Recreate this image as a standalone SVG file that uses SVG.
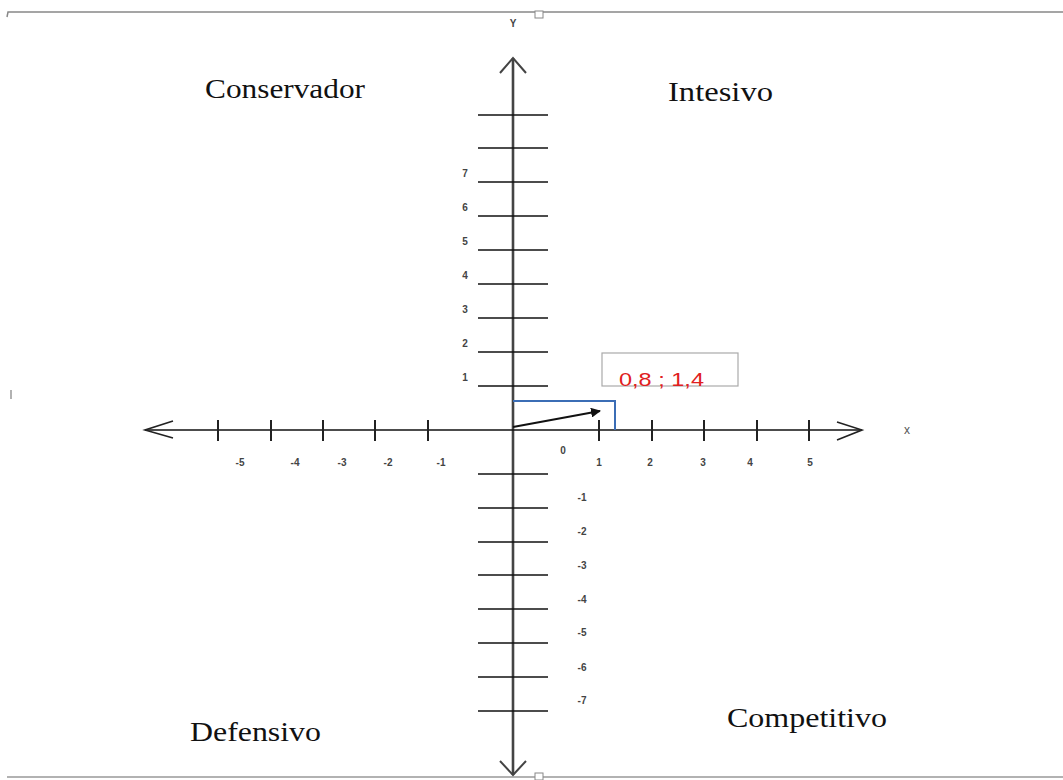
<svg xmlns="http://www.w3.org/2000/svg" width="1063" height="780" viewBox="0 0 1063 780">
<style>
.quad{font-family:"Liberation Serif","Times New Roman",serif;font-size:27px;fill:#111}
.tk{font-family:"Liberation Sans",Arial,sans-serif;font-size:10px;font-weight:bold;fill:#444;text-anchor:middle}
.ytick{stroke:#111;stroke-width:1.4}
.xtick{stroke:#222;stroke-width:2}
.frame{stroke:#888;stroke-width:1.5;fill:none}
</style>
<defs>
<marker id="ah" markerWidth="10" markerHeight="10" refX="9" refY="5" orient="auto" markerUnits="userSpaceOnUse">
<path d="M0,0 L10,5 L0,10 Z" fill="#111"/>
</marker>
</defs>
<rect width="1063" height="780" fill="#fff"/>
<g id="frame">
<path class="frame" d="M7,17 L8,12 L1063,12"/>
<rect x="535" y="11" width="8" height="7" fill="#fff" stroke="#888" stroke-width="1"/>
<line x1="7" y1="777" x2="1063" y2="777" stroke="#999" stroke-width="1.5"/>
<rect x="535" y="773" width="8" height="7" fill="#fff" stroke="#888" stroke-width="1"/>
<line x1="11" y1="390" x2="11" y2="399" stroke="#999" stroke-width="1.5"/>
</g>
<g id="axes">
<line x1="513" y1="58" x2="513" y2="775" stroke="#444" stroke-width="2.6"/>
<path d="M500,73 L513,58 L526,73" fill="none" stroke="#444" stroke-width="2"/>
<path d="M500,761 L513,775 L526,761" fill="none" stroke="#444" stroke-width="2"/>
<line x1="145" y1="430" x2="862" y2="430" stroke="#111" stroke-width="1.5"/>
<path d="M173,421 L145,430 L173,438" fill="none" stroke="#222" stroke-width="1.6"/>
<path d="M837,422 L862,430 L837,440" fill="none" stroke="#222" stroke-width="1.6"/>
<text x="513" y="27" class="tk" fill="#666">Y</text>
<text x="907" y="434" class="tk" style="font-size:12px;font-weight:normal;fill:#555">x</text>
</g>
<g id="yticks">
<line class="ytick" x1="478" y1="115" x2="548" y2="115"/>
<line class="ytick" x1="478" y1="148" x2="548" y2="148"/>
<line class="ytick" x1="478" y1="182" x2="548" y2="182"/>
<line class="ytick" x1="478" y1="216" x2="548" y2="216"/>
<line class="ytick" x1="478" y1="250" x2="548" y2="250"/>
<line class="ytick" x1="478" y1="284" x2="548" y2="284"/>
<line class="ytick" x1="478" y1="318" x2="548" y2="318"/>
<line class="ytick" x1="478" y1="352" x2="548" y2="352"/>
<line class="ytick" x1="478" y1="386" x2="548" y2="386"/>
<line class="ytick" x1="478" y1="474" x2="548" y2="474"/>
<line class="ytick" x1="478" y1="508" x2="548" y2="508"/>
<line class="ytick" x1="478" y1="542" x2="548" y2="542"/>
<line class="ytick" x1="478" y1="575" x2="548" y2="575"/>
<line class="ytick" x1="478" y1="609" x2="548" y2="609"/>
<line class="ytick" x1="478" y1="643" x2="548" y2="643"/>
<line class="ytick" x1="478" y1="677" x2="548" y2="677"/>
<line class="ytick" x1="478" y1="711" x2="548" y2="711"/>
<text class="tk" x="465" y="177">7</text>
<text class="tk" x="465" y="211">6</text>
<text class="tk" x="465" y="245">5</text>
<text class="tk" x="465" y="279">4</text>
<text class="tk" x="465" y="313">3</text>
<text class="tk" x="465" y="347">2</text>
<text class="tk" x="465" y="381">1</text>
<text class="tk" x="582" y="501">-1</text>
<text class="tk" x="582" y="535">-2</text>
<text class="tk" x="582" y="569">-3</text>
<text class="tk" x="582" y="603">-4</text>
<text class="tk" x="582" y="636">-5</text>
<text class="tk" x="582" y="671">-6</text>
<text class="tk" x="582" y="704">-7</text>
</g>
<g id="xticks">
<line class="xtick" x1="218" y1="420" x2="218" y2="441"/>
<line class="xtick" x1="271" y1="420" x2="271" y2="441"/>
<line class="xtick" x1="323" y1="420" x2="323" y2="441"/>
<line class="xtick" x1="375" y1="420" x2="375" y2="441"/>
<line class="xtick" x1="428" y1="420" x2="428" y2="441"/>
<line class="xtick" x1="599" y1="420" x2="599" y2="441" stroke="#777"/>
<line class="xtick" x1="652" y1="420" x2="652" y2="441" stroke="#777"/>
<line class="xtick" x1="704" y1="420" x2="704" y2="441" stroke="#777"/>
<line class="xtick" x1="757" y1="420" x2="757" y2="441" stroke="#777"/>
<line class="xtick" x1="809" y1="420" x2="809" y2="441" stroke="#777"/>
<text class="tk" x="240" y="466">-5</text>
<text class="tk" x="295" y="466">-4</text>
<text class="tk" x="342" y="466">-3</text>
<text class="tk" x="388" y="466">-2</text>
<text class="tk" x="441" y="466">-1</text>
<text class="tk" x="563" y="454">0</text>
<text class="tk" x="599" y="466">1</text>
<text class="tk" x="650" y="466">2</text>
<text class="tk" x="703" y="466">3</text>
<text class="tk" x="750" y="466">4</text>
<text class="tk" x="810" y="466">5</text>
</g>
<g id="quadrants">
<text class="quad" x="205" y="98" textLength="160" lengthAdjust="spacingAndGlyphs">Conservador</text>
<text class="quad" x="668" y="101" textLength="105" lengthAdjust="spacingAndGlyphs">Intesivo</text>
<text class="quad" x="190" y="741" textLength="131" lengthAdjust="spacingAndGlyphs">Defensivo</text>
<text class="quad" x="727" y="727" textLength="160" lengthAdjust="spacingAndGlyphs">Competitivo</text>
</g>
<g id="point-box">
<rect x="602" y="353" width="136" height="33" fill="#fff" stroke="#aaa" stroke-width="1.2"/>
<text x="619" y="386" font-family="'Liberation Sans',Arial,sans-serif" font-size="19" fill="#e02020" textLength="85" lengthAdjust="spacingAndGlyphs">0,8 ; 1,4</text>
</g>
<g id="vector">
<path d="M513,401 L615,401 L615,430" fill="none" stroke="#3b6db5" stroke-width="2"/>
<line x1="513" y1="427" x2="600" y2="411" stroke="#111" stroke-width="1.8" marker-end="url(#ah)"/>
</g>
</svg>
